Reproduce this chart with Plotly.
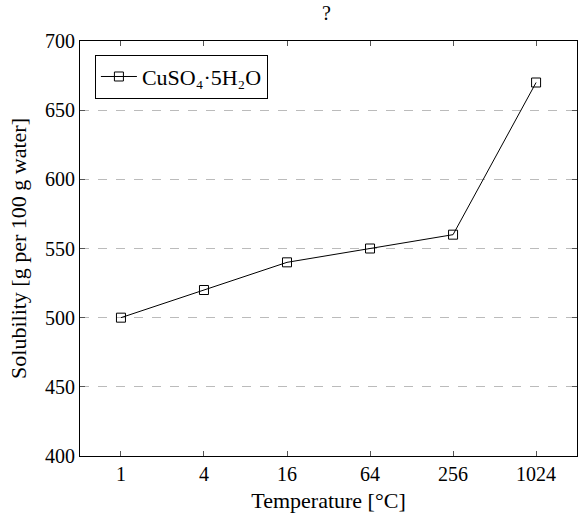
import plotly.graph_objects as go

# data
temperatures = [1, 4, 16, 64, 256, 1024]
solubility = [500, 520, 540, 550, 560, 670]
x_ticks = ['1', '4', '16', '64', '256', '1024']
y_ticks = [400, 450, 500, 550, 600, 650, 700]

font_family = "Liberation Serif"
fsize = 20

fig = go.Figure()
fig.add_trace(go.Scatter(
    x=temperatures, y=solubility,
    mode='lines+markers',
    name='CuSO₄·5H₂O',
    line=dict(color='black', width=1),
    marker=dict(symbol='square-open', size=9, color='black', line=dict(width=1)),
))

fig.update_layout(
    width=578, height=520,
    margin=dict(l=80, r=1, t=41, b=64, autoexpand=False),
    plot_bgcolor='white', paper_bgcolor='white',
    font=dict(family=font_family, size=fsize, color='black'),
    title=dict(text='?', x=0.565, xanchor='center', y=0.975, yanchor='middle',
               font=dict(size=fsize)),
    showlegend=True,
    legend=dict(x=0.03, y=0.967, xanchor='left', yanchor='top',
                bordercolor='black', borderwidth=1, bgcolor='white',
                font=dict(size=22), itemwidth=36),
)

fig.update_xaxes(
    type='log', range=[-0.297, 3.307],
    tickvals=temperatures, ticktext=x_ticks, tickfont=dict(size=fsize),
    ticks='inside', ticklen=5, tickcolor='#555', tickwidth=1,
    showline=True, linecolor='black', linewidth=1, mirror='ticks',
    showgrid=False, zeroline=False, automargin=False,
    title=dict(text='Temperature [°C]', standoff=8, font=dict(size=22)),
)
fig.update_yaxes(
    range=[400, 700], tickvals=y_ticks, tickfont=dict(size=fsize),
    ticks='inside', ticklen=5, tickcolor='#555', tickwidth=1,
    showline=True, linecolor='black', linewidth=1, mirror='ticks',
    showgrid=True, gridcolor='#bbbbbb', griddash='dash', gridwidth=1,
    zeroline=False, automargin=False,
    title=dict(text='Solubility [g per 100 g water]', standoff=12, font=dict(size=22)),
)

fig.write_html("out.html", config={'displayModeBar': False},
               post_script="document.body.style.margin='0';")
